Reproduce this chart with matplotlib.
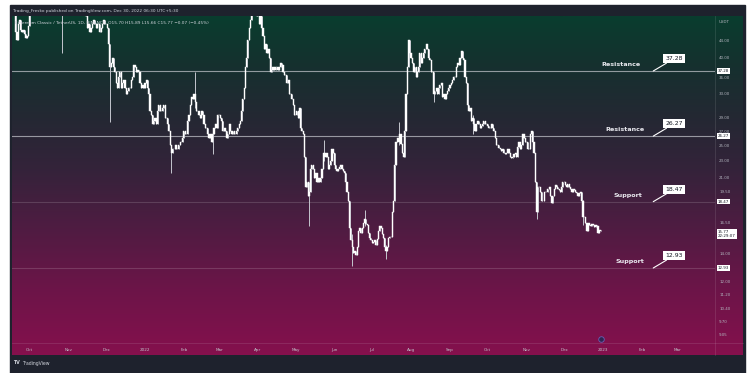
import matplotlib
matplotlib.use("Agg")
import matplotlib.pyplot as plt
import matplotlib.dates as mdates
from matplotlib.colors import LinearSegmentedColormap
from matplotlib.patches import Rectangle
from matplotlib.lines import Line2D
import numpy as np
import pandas as pd

# Daily closes, ETC/USDT, 2021-09-17 .. 2022-12-30
sep21 = [52, 53, 51, 46, 44, 48, 49, 46.5, 46, 46.5, 45.5, 44.5, 45, 47.5]
oct21 = [52, 53, 54, 55, 54, 57, 56, 56, 55, 54, 55, 56, 55, 55, 57, 58, 57, 57, 58, 59,
         60, 59, 58, 57, 56, 57, 52, 54, 55, 54, 54]
nov21 = [53, 54, 55, 56, 55, 56, 58, 59, 60, 57, 56, 56, 54, 53, 50, 47, 48, 46, 47, 48,
         49, 48, 47, 48, 48, 46, 47, 48, 49, 48]
dec21 = [48, 47, 43, 38, 39, 40, 38, 37, 35, 34, 36, 37, 34, 35, 35.5, 34, 33, 33.5, 34, 34,
         35.5, 36, 38.5, 38, 37, 37.5, 37, 35, 34, 34.5, 34]
jan22 = [35, 35.5, 34, 33, 30, 29.5, 28, 28.5, 29, 28, 30, 31, 30, 30, 30.5, 31, 29, 29, 28, 27,
         25, 24, 24.5, 24.5, 25, 24.5, 24.5, 25, 25.5, 25.5, 26]
feb22 = [27, 26.5, 26.5, 28.5, 29.5, 31, 32.5, 32, 33, 31.5, 30, 30, 29.5, 29, 30, 29.5, 28, 27.5,
         27.5, 26.5, 26, 26.5, 25.5, 26.5, 27.5, 28, 27.5, 29.5]
mar22 = [29.5, 29, 28.5, 27, 27.5, 27, 26, 26.5, 28, 27, 26.5, 27, 26.5, 26.5, 27, 27.5, 28, 28.5,
         30, 32, 34, 38, 40, 44, 47, 49, 52, 55, 51, 52, 50]
apr22 = [50, 48, 50, 47, 45, 42, 43, 41, 42, 40, 37, 37.5, 38, 37.5, 38, 38, 37.5, 38, 39, 38.5,
         37, 36.5, 36.5, 35, 35.5, 33, 33, 32, 31, 29.5]
may22 = [29.5, 30, 29, 30.5, 27.5, 27, 26.5, 23.5, 20, 20.5, 19, 19.5, 22, 22.5, 22, 21, 21.5, 20.5,
         21, 20.5, 21, 22, 24, 23.5, 24, 23.5, 22, 22.5, 23, 24.5, 24]
jun22 = [22.5, 22, 21.8, 22, 22.2, 22.5, 22, 21.8, 21.5, 20.5, 19.5, 18.5, 16, 15, 14.5, 14, 14.2,
         13.9, 14.5, 15.8, 16, 15.6, 16, 16.5, 16.8, 16.4, 16.3, 15.6, 15.2, 15]
jul22 = [14.8, 14.9, 15, 14.6, 15.1, 15.8, 16.2, 16, 15.5, 15.2, 14.5, 14.2, 14.5, 15.2, 15.3, 15.3,
         17.5, 18.5, 22.5, 25.5, 26, 25.5, 26.5, 25.2, 24, 23.5, 27, 33, 38, 44, 41]
aug22 = [40, 39, 37, 38, 36, 37, 38, 41, 39, 40, 41, 42, 43, 42, 40, 39.5, 37, 37, 33, 33.5,
         34, 33, 34, 34.5, 35, 32.5, 33, 32, 33, 33.5, 34]
sep22 = [34.5, 35, 35.5, 36, 36, 38, 39, 38.5, 40, 41.5, 40, 39.5, 36, 35, 31, 30, 30.5, 28.5,
         29, 28, 27, 28, 28.5, 28, 27.5, 27.8, 28, 28.5, 28, 28]
oct22 = [27.8, 27.5, 27.5, 28, 27.5, 27, 26, 25, 25, 24.7, 24.5, 24.3, 24.5, 24, 23.8, 24, 24.5,
         24, 23.5, 23.3, 23.5, 23.8, 24, 23.5, 24.8, 25.5, 24.5, 25, 26.5, 26, 25.5]
nov22 = [25.5, 24.5, 24.5, 26.5, 27, 25.5, 24, 20.5, 17.5, 20, 20, 19.5, 18.5, 18.5, 19.5, 19.5,
         19.5, 19.8, 20, 19, 18.3, 19, 19.8, 20.2, 20, 19.8, 19.7, 19.5, 20, 20.5]
dec22 = [20.5, 20.2, 20, 20.3, 20, 19.8, 19.5, 19.8, 19.7, 19.5, 19.3, 19, 19.3, 19.5, 18.5, 17,
         17, 16.5, 15.8, 16.5, 16.3, 16.2, 16.4, 16.3, 16.1, 16.3, 16.2, 15.6, 15.84, 15.77]

# notable wicks: date -> (high, low)
wicks = {
    "2021-10-27": (55, 41), "2021-12-04": (43, 28.3), "2022-01-22": (25, 21.5),
    "2022-02-10": (37, 30.5), "2022-02-24": (27, 23.8), "2022-05-12": (20.5, 16.2),
    "2022-06-15": (15.5, 13.1), "2022-06-25": (17.7, 16.2), "2022-07-12": (14.6, 13.6),
    "2022-07-22": (28.3, 25), "2022-05-24": (25.7, 23), "2022-11-09": (20.5, 16.8),
    "2022-08-19": (37, 31.5), "2022-09-19": (29.5, 26.5), "2022-12-16": (18.6, 16.3),
}

levels = [37.28, 26.27, 18.47, 12.93]
level_names = ["Resistance", "Resistance", "Support", "Support"]
level_name_dx = [-13, -9, -11, -9]

price_ticks = [44, 40, 36, 33, 29, 27, 25, 23, 21, 19.5, 16.5, 14, 12, 11.2, 10.4, 9.7, 9.05]
time_ticks = pd.date_range("2021-10-01", "2023-03-01", freq="MS")
time_labels = [d.strftime("%b") if d.month != 1 else str(d.year) for d in time_ticks]

closes = np.array(sep21 + oct21 + nov21 + dec21 + jan22 + feb22 + mar22 + apr22 + may22
                  + jun22 + jul22 + aug22 + sep22 + oct22 + nov22 + dec22, dtype=float)
dates = pd.date_range("2021-09-17", "2022-12-30", freq="D")
assert len(dates) == len(closes)
opens = np.concatenate([[closes[0]], closes[:-1]])
highs = np.maximum(opens, closes)
lows = np.minimum(opens, closes)
for d, (h, l) in wicks.items():
    i = dates.get_loc(pd.Timestamp(d))
    highs[i] = max(highs[i], h)
    lows[i] = min(lows[i], l)

W, H = 749, 373
def fx(px): return px / W
def fy(py): return 1 - py / H

fig = plt.figure(figsize=(W / 100, H / 100), dpi=100)
fig.patch.set_facecolor("white")
fig.add_artist(Rectangle((fx(10), 0), fx(745) - fx(10), fy(5), transform=fig.transFigure,
                         color="#1e222d", zorder=0))

# gradient panel
cmap = LinearSegmentedColormap.from_list("tv", [
    (0.00, "#093d2e"), (0.15, "#16302f"), (0.30, "#242833"), (0.45, "#34233a"),
    (0.60, "#4b1d41"), (0.80, "#6b1548"), (1.00, "#85104d")])
bg = fig.add_axes([fx(12), fy(355), fx(743) - fx(12), fy(16) - fy(355)])
bg.imshow(np.linspace(0, 1, 256).reshape(-1, 1), aspect="auto", cmap=cmap,
          extent=[0, 1, 0, 1], interpolation="bilinear")
bg.axis("off")

ax = fig.add_axes([fx(12), fy(343), fx(715) - fx(12), fy(16) - fy(343)])
ax.set_facecolor("none")
for s in ax.spines.values():
    s.set_visible(False)

x = mdates.date2num(dates)
ax.vlines(x, lows, highs, color="#c4c6ce", lw=0.7, zorder=3)
ax.bar(x, np.abs(closes - opens), bottom=np.minimum(opens, closes), width=0.9,
       color="white", edgecolor="white", linewidth=0.3, zorder=4)

ax.set_yscale("log")
ax.set_ylim(8.64, 50.1)
x0 = mdates.date2num(pd.Timestamp("2022-01-01"))
ax.set_xlim(x0 - 106.0, x0 + 454.2)

ax.yaxis.set_minor_locator(matplotlib.ticker.NullLocator())
ax.yaxis.tick_right()
ax.set_yticks(price_ticks)
ax.set_yticklabels([f"{v:.2f}" for v in price_ticks])
ax.tick_params(axis="y", length=0, pad=3, labelsize=2.9, colors="#b2b5be")
ax.set_xticks(mdates.date2num(time_ticks))
ax.set_xticklabels(time_labels)
ax.tick_params(axis="x", length=0, pad=3.5, labelsize=3.0, colors="#c0c3cb")

# levels
base = mdates.date2num(pd.Timestamp("2023-02-10"))
for i, (lvl, name, dx) in enumerate(zip(levels, level_names, level_name_dx)):
    ax.axhline(lvl, color="#c8cad0" if i < 2 else "#ffffff", alpha=0.7 if i < 2 else 0.15,
               lw=0.8, zorder=2)
    ax.annotate(name, xy=(base, lvl), xytext=(dx, 6.5), textcoords="offset pixels",
                ha="right", va="center", fontsize=4.6, fontweight="bold", color="#e8e8ee")
    ax.annotate(f"{lvl:.2f}", xy=(base, lvl), xytext=(21, 12.5), textcoords="offset pixels",
                ha="center", va="center", fontsize=4.4, color="#131722",
                bbox=dict(boxstyle="square,pad=0.35", fc="white", ec="none"),
                arrowprops=dict(arrowstyle="-", color="white", lw=0.8, shrinkA=0, shrinkB=0))
    ax.annotate(f"{lvl:.2f}", xy=(1, lvl), xycoords=("axes fraction", "data"),
                xytext=(3, 0), textcoords="offset pixels", ha="left", va="center",
                fontsize=2.9, color="#131722",
                bbox=dict(boxstyle="square,pad=0.2", fc="white", ec="none"))

ax.annotate(f"{closes[-1]:.2f}\n22:29:07", xy=(1, closes[-1]), xycoords=("axes fraction", "data"),
            xytext=(3, -3), textcoords="offset pixels", ha="left", va="center",
            fontsize=2.9, color="#131722", linespacing=1.1,
            bbox=dict(boxstyle="square,pad=0.25", fc="white", ec="none"))

# event marker
ax.plot([mdates.date2num(pd.Timestamp("2022-12-30"))], [0.012], marker="o", ms=4,
        mfc="#2e2550", mec="#6b5fb5", mew=0.6, transform=ax.get_xaxis_transform(),
        clip_on=False, zorder=5)

# separators
fig.add_artist(Line2D([fx(715), fx(715)], [fy(16), fy(355)], color="white", alpha=0.12, lw=0.6))
fig.add_artist(Line2D([fx(12), fx(743)], [fy(343), fy(343)], color="white", alpha=0.12, lw=0.6))

fig.text(fx(13), fy(11), "Trading_Fresko published on TradingView.com, Dec 30, 2022 06:30 UTC+5:30",
         fontsize=3.1, color="#d1d4dc", va="center")
fig.text(fx(15), fy(23), "Ethereum Classic / TetherUS, 1D, BINANCE  O15.70 H15.89 L15.66 C15.77 "
         "\u22120.07 (\u22120.45%)", fontsize=3.1, color="#d1d4dc", va="center")
fig.text(fx(719), fy(22), "USDT", fontsize=2.9, color="#b2b5be", va="center")
fig.text(fx(13), fy(363), "TV", fontsize=3.4, color="#d1d4dc", va="center", fontweight="bold")
fig.text(fx(22), fy(363), "TradingView", fontsize=3.3, color="#d1d4dc", va="center")

fig.savefig("out.png", dpi=100)
